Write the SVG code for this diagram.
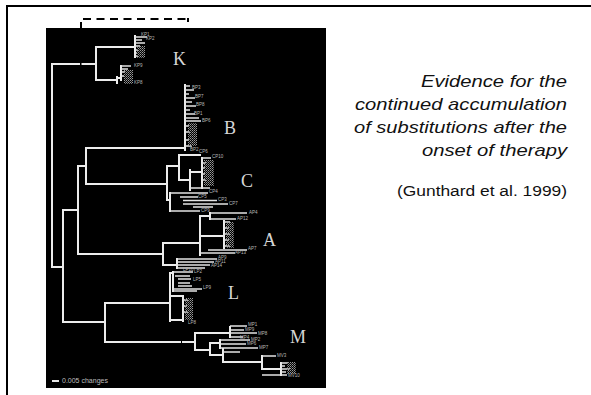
<svg xmlns="http://www.w3.org/2000/svg" width="591" height="395" viewBox="0 0 591 395">
  <defs>
    <!-- stippled grey used for the dense clusters of leaf labels -->
    <pattern id="stip" width="2" height="2" patternUnits="userSpaceOnUse">
      <rect x="0" y="0" width="1" height="1" fill="#9a9a9a"/>
      <rect x="1" y="1" width="1" height="1" fill="#6a6a6a"/>
    </pattern>
  </defs>
  <style>
    .frame { fill: none; stroke: #000; stroke-width: 2; }
    .dash { fill: none; stroke: #000; stroke-width: 2; stroke-dasharray: 8 5.5; }
    .tick { fill: none; stroke: #000; stroke-width: 2; }
    .br { fill: none; stroke: #ececec; stroke-width: 2; stroke-linecap: square; }
    .lf { fill: none; stroke: #e4e4e4; stroke-width: 1.5; }
    .clade { font-family: "Liberation Serif", "Times New Roman", serif; font-size: 18px; fill: #d6d6d6; }
    .leaf { font-family: "Liberation Sans", Arial, sans-serif; font-size: 4.5px; fill: #b8b8b8; }
    .st { fill: url(#stip); }
    .head { font-family: "Liberation Sans", Arial, sans-serif; font-style: italic; font-size: 17px; fill: #111; text-anchor: end; }
    .cite { font-family: "Liberation Sans", Arial, sans-serif; font-size: 15.5px; fill: #111; text-anchor: end; }
    .scale { font-family: "Liberation Sans", Arial, sans-serif; font-size: 7px; fill: #bdbdbd; }
  </style>

  <rect width="591" height="395" fill="#fff"/>
  <!-- slide frame: top and left rules -->
  <path class="frame" d="M7,395 V6 H591"/>

  <!-- tree panel -->
  <rect id="panel" x="46" y="28" width="280" height="360" fill="#000"/>

  <!-- dashed bracket above the panel -->
  <g id="bracket">
    <path class="tick" d="M81,22 V28"/>
    <path class="dash" d="M83,19 H189"/>
    <path class="tick" d="M188,18 V22"/>
  </g>

  <g id="connectors">
    <!-- backbone -->
    <path class="br" d="M96,64 H52 V267 H63 M63,210 V322 M63,210 H78 M78,166 V254 M78,166 H86 M86,148 V184 M63,322 H105 M105,303 V342 M96,47 V80"/>
    <rect x="80" y="63" width="1.5" height="2" fill="#000"/>
  </g>

  <g id="clade-K">
    <path class="br" d="M96,47 H134 M135,36 V57 M96,80 H117 M117,77 V83 M117,78 H121 M121,66 V80"/>
    <path class="lf" d="M135,37 H147 M135,40 H142 M135,43 H145 M135,46 H140 M135,50 H138 M135,53 H137 M135,56 H138 M121,66 H131 M121,69 H128 M121,72 H125 M121,76 H124"/>
    <rect class="st" x="137" y="46" width="8" height="12"/>
    <rect class="st" x="124" y="70" width="9" height="14"/>
    <text class="leaf" x="141" y="36">KP1</text>
    <text class="leaf" x="146" y="40">KP2</text>
    <text class="leaf" x="134" y="67">KP9</text>
    <text class="leaf" x="134" y="84">KP8</text>
    <text class="clade" x="173" y="65">K</text>
  </g>

  <g id="clade-B">
    <path class="br" d="M86,148 H184 M185,85 V150"/>
    <path class="lf" d="M185,86 H190 M185,90 H194 M185,94 H189 M185,98 H195 M185,102 H192 M185,106 H196 M185,110 H190 M185,114 H195 M185,118 H199 M185,121 H201 M185,126 H189 M185,132 H190 M185,140 H189 M185,146 H192"/>
    <rect class="st" x="188" y="123" width="9" height="23"/>
    <text class="leaf" x="192" y="89">BP3</text>
    <text class="leaf" x="195" y="98">BP7</text>
    <text class="leaf" x="196" y="106">BP8</text>
    <text class="leaf" x="194" y="115">BP1</text>
    <text class="leaf" x="202" y="122">BP6</text>
    <text class="leaf" x="190" y="151">BP2</text>
    <text class="clade" x="224" y="134">B</text>
  </g>

  <g id="clade-C">
    <path class="br" d="M86,184 H167 M167,166 V200 M167,166 H179 M179,155 V180 M179,155 H200 M179,180 H190 M190,170 V190 M190,172 H202 M202,158 V188 M167,200 H170 M170,193 V211"/>
    <path class="lf" d="M202,158 H211 M202,163 H206 M202,168 H205 M202,174 H205 M202,180 H206 M190,188 H210 M170,193 H208 M180,197 H198 M183,200.5 H217 M183,204 H228 M193,207 H213 M170,211 H200"/>
    <rect class="st" x="204" y="160" width="10" height="26"/>
    <text class="leaf" x="199" y="153">CP6</text>
    <text class="leaf" x="212" y="158">CP10</text>
    <text class="leaf" x="209" y="193">CP4</text>
    <text class="leaf" x="198" y="198">CP5</text>
    <text class="leaf" x="218" y="201">CP3</text>
    <text class="leaf" x="229" y="205">CP7</text>
    <text class="leaf" x="201" y="212">CP9</text>
    <text class="clade" x="241" y="187">C</text>
  </g>

  <g id="clade-A">
    <path class="br" d="M78,254 H163 M163,243 V265 M163,243 H200 M200,216 V255 M200,216 H210 M210,213 V219 M200,236 H224 M224,221 V248 M163,265 H177 M177,259 V268"/>
    <path class="lf" d="M210,213 H247 M210,219 H236 M224,222 H230 M224,228 H229 M224,234 H230 M224,240 H229 M224,246 H230 M208,250 H247 M200,253 H235 M177,259 H217 M177,262 H214 M177,265 H210 M177,268 H205"/>
    <rect class="st" x="226" y="222" width="8" height="26"/>
    <text class="leaf" x="249" y="214">AP4</text>
    <text class="leaf" x="237" y="220">AP12</text>
    <text class="leaf" x="248" y="250">AP7</text>
    <text class="leaf" x="235" y="254">AP13</text>
    <text class="leaf" x="218" y="259">AP9</text>
    <text class="leaf" x="215" y="263">AP11</text>
    <text class="leaf" x="211" y="267">AP14</text>
    <text class="clade" x="263" y="246">A</text>
  </g>

  <g id="clade-L">
    <path class="br" d="M105,303 H170 M170,273 V321 M170,273 H173 M173,272 V291 M170,296 H183 M183,296 V321 M170,320 H183"/>
    <path class="lf" d="M173,272 H193 M175,276 H190 M178,279 H191 M178,283 H190 M178,286 H192 M172,289 H202 M172,291 H197 M183,300 H188 M183,306 H187 M183,312 H188"/>
    <rect class="st" x="185" y="298" width="8" height="22"/>
    <text class="leaf" x="183" y="271">LP10</text>
    <text class="leaf" x="194" y="273">LP2</text>
    <text class="leaf" x="193" y="281">LP5</text>
    <text class="leaf" x="203" y="289">LP9</text>
    <text class="leaf" x="188" y="324">LP8</text>
    <text class="clade" x="228" y="299">L</text>
  </g>

  <g id="clade-M">
    <path class="br" d="M105,342 H180 M183,342 H195 M195,333 V350 M195,333 H230 M230,327 V337 M195,350 H210 M210,343 V355 M210,343 H220 M220,340 V348 M210,355 H223 M223,349 V362 M223,362 H262 M262,356 V369 M262,369 H281 M281,363 V375"/>
    <path class="lf" d="M230,326 H247 M230,330 H244 M230,333 H257 M230,337 H243 M220,340 H250 M220,344 H246 M220,348 H258 M223,352 H240 M262,356 H276 M281,363 H288 M281,366 H285 M281,369 H290 M281,372 H286 M262,375 H287"/>
    <rect class="st" x="287" y="362" width="9" height="12"/>
    <text class="leaf" x="248" y="326">MP1</text>
    <text class="leaf" x="245" y="331">MP9</text>
    <text class="leaf" x="258" y="335">MP8</text>
    <text class="leaf" x="240" y="339">MP4</text>
    <text class="leaf" x="251" y="341">MP2</text>
    <text class="leaf" x="247" y="345">MP6</text>
    <text class="leaf" x="259" y="349">MP7</text>
    <text class="leaf" x="277" y="357">MV3</text>
    <text class="leaf" x="288" y="377">MV10</text>
    <text class="clade" x="290" y="343">M</text>
  </g>

  <!-- scale bar -->
  <g id="scale-bar">
    <rect x="52" y="380" width="7" height="2" fill="#e8e8e8"/>
    <text class="scale" x="62" y="383">0.005 changes</text>
  </g>

  <!-- caption -->
  <g id="caption">
    <text class="head" x="567" y="87" textLength="146" lengthAdjust="spacingAndGlyphs">Evidence for the</text>
    <text class="head" x="567" y="110" textLength="212" lengthAdjust="spacingAndGlyphs">continued accumulation</text>
    <text class="head" x="567" y="133" textLength="213" lengthAdjust="spacingAndGlyphs">of substitutions after the</text>
    <text class="head" x="567" y="156" textLength="145" lengthAdjust="spacingAndGlyphs">onset of therapy</text>
    <text class="cite" x="567" y="196" textLength="170" lengthAdjust="spacingAndGlyphs">(Gunthard et al. 1999)</text>
  </g>
</svg>
